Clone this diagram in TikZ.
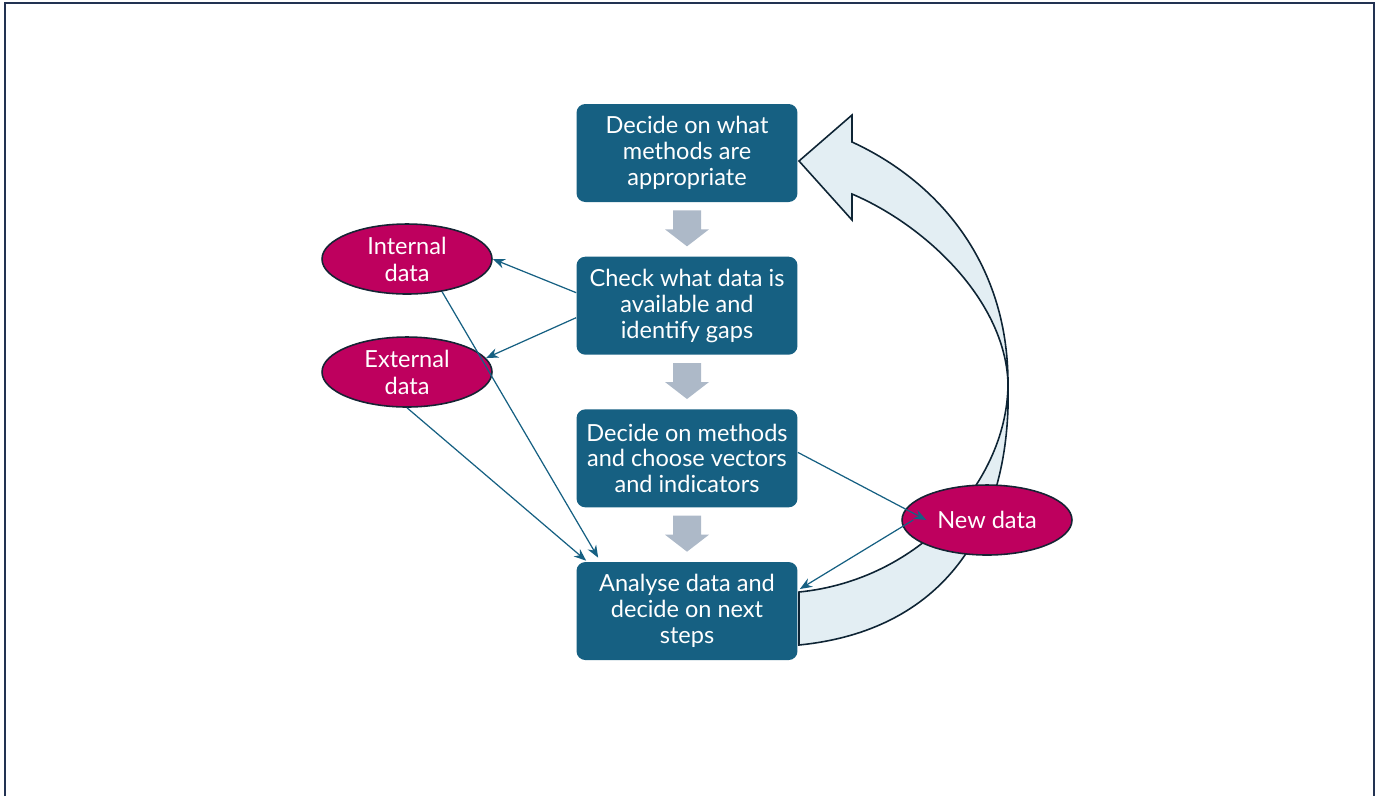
\documentclass[tikz,border=0pt]{standalone}
\usepackage{fontspec}
\setsansfont{Lato}
\usepackage{tikz}
\usetikzlibrary{arrows.meta, calc, positioning, shapes.geometric}
\definecolor{boxblue}{RGB}{22,96,130}
\definecolor{datared}{RGB}{190,0,94}
\definecolor{ovaledge}{RGB}{22,36,52}
\definecolor{flowgray}{RGB}{173,185,200}
\definecolor{bandfill}{RGB}{227,238,243}
\definecolor{bandedge}{RGB}{14,36,52}
\definecolor{framecol}{RGB}{34,50,82}
\tikzstyle{stepbox} = [rectangle, rounded corners=5pt, fill=boxblue, text=white, minimum width=4.42cm, minimum height=1.96cm, align=center, font=\sffamily\fontsize{13.4}{14.7}\selectfont]
\tikzstyle{datanode} = [ellipse, draw=ovaledge, line width=0.9pt, fill=datared, text=white, minimum width=3.4cm, minimum height=1.4cm, inner sep=0pt, align=center, font=\sffamily\fontsize{13.4}{15.3}\selectfont]
\tikzstyle{arrow} = [boxblue, line width=0.7pt, -{Stealth[length=7pt,width=5.5pt]}]

\begin{document}
\begin{tikzpicture}[x=0.02cm, y=-0.02cm]
    \useasboundingbox (0,0) rectangle (1379,796);
    \draw[framecol, line width=1.2pt] (5,796) -- (5,3) -- (1374,3) -- (1374,796);

    % loop back arrow
    \filldraw[fill=bandfill, draw=bandedge, line width=0.9pt]
        (799,161) -- (852,115) -- (852,142)
        .. controls (935,180) and (1008,260) .. (1008,383)
        .. controls (1008,480) and (920,580) .. (799,592)
        -- (799,645)
        .. controls (950,630) and (1012,520) .. (1008,383)
        .. controls (1005,300) and (925,225) .. (852,194)
        -- (852,220) -- cycle;

    % steps
    \node[stepbox] (decide) at (687,153) {Decide on what\\methods are\\appropriate};
    \node[stepbox, below=1.08cm of decide] (check) {Check what data is\\available and\\identify gaps};
    \node[stepbox, below=1.08cm of check] (choose) {Decide on methods\\and choose vectors\\and indicators};
    \node[stepbox, below=1.08cm of choose] (analyse) {Analyse data and\\decide on next\\steps};

    \foreach \a/\b in {decide/check, check/choose, choose/analyse}
        \fill[flowgray] ($(\a.south)+(-14,8)$) -- ++(28,0) -- ++(0,19) -- ++(8,0)
            -- ($(\b.north)+(0,-10)$) -- ($(\a.south)+(-22,27)$) -- ++(8,0) -- cycle;

    % data sources
    \node[datanode] (internal) at (407,259) {Internal\\data};
    \node[datanode] (external) at (407,372) {External\\data};
    \node[datanode] (new) at (987,520) {New data};

    \draw[arrow] ($(check.west)+(0,-13)$) -- (internal.east);
    \draw[arrow] ($(check.west)+(0,12)$) -- (external.10);
    \draw[arrow] (internal.-43) -- ($(analyse.north west)+(22,-4)$);
    \draw[arrow] (external.south) -- ($(analyse.north west)+(10,-1)$);
    \draw[arrow] ($(choose.east)+(0,-6)$) -- ($(new.west)+(25,0)$);
    \draw[arrow] ($(new.west)+(12,0)$) -- ($(analyse.east)+(2,-22)$);
\end{tikzpicture}
\end{document}
